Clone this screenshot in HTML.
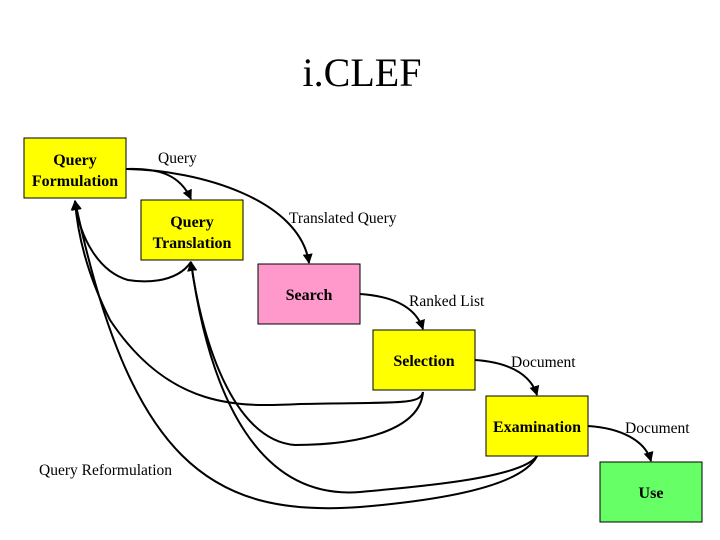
<!DOCTYPE html>
<html><head><style>
body{margin:0;width:720px;height:540px;background:#fff;overflow:hidden}
svg{display:block}
</style></head><body>
<svg width="720" height="540" xmlns="http://www.w3.org/2000/svg" font-family="Liberation Serif, serif">
<defs><marker id="a" viewBox="0 0 10 10" refX="9" refY="5" markerWidth="5" markerHeight="5" orient="auto"><path d="M0,0L10,5L0,10z" fill="#000"/></marker></defs>
<text x="362" y="86" font-size="40" text-anchor="middle">i.CLEF</text>
<g stroke="#000" stroke-width="1">
<rect x="24" y="138" width="102" height="60" fill="#ffff00"/>
<rect x="141" y="200" width="102" height="60" fill="#ffff00"/>
<rect x="258" y="264" width="102" height="60" fill="#ff99cc"/>
<rect x="373" y="330" width="102" height="60" fill="#ffff00"/>
<rect x="486" y="396" width="102" height="60" fill="#ffff00"/>
<rect x="600" y="462" width="102" height="60" fill="#66ff66"/>
</g>
<g fill="none" stroke="#000" stroke-width="2" marker-end="url(#a)">
<path d="M126,169 C160,168 180,175 191,199"/>
<path d="M126,169 C200,170 300,200 309,263"/>
<path d="M360,294 C390,296 415,305 423,329"/>
<path d="M475,360 C505,362 530,372 537,395"/>
<path d="M588,426 C620,428 645,440 651,461"/>
<path d="M191,262 C175,285 140,282 128,280 C100,272 80,240 75,201"/>
<path d="M423,392 C420,405 400,402 300,404 C240,407 170,410 110,320 C90,280 78,240 75,201"/>
<path d="M423,392 C420,430 360,445 295,445 C230,440 200,330 191,262"/>
<path d="M537,456 C520,480 400,488 360,492 C260,500 210,400 191,262"/>
<path d="M537,456 C520,490 420,502 360,507 C210,518 130,460 75,201"/>
</g>
<g font-size="16" text-anchor="middle" font-weight="bold">
<text x="75" y="165">Query</text><text x="75" y="186">Formulation</text>
<text x="192" y="227">Query</text><text x="192" y="248">Translation</text>
<text x="309" y="300">Search</text>
<text x="424" y="366">Selection</text>
<text x="537" y="432">Examination</text>
<text x="651" y="498">Use</text>
</g>
<g font-size="15.5">
<text x="158" y="163">Query</text>
<text x="289" y="223">Translated Query</text>
<text x="409" y="306">Ranked List</text>
<text x="511" y="367">Document</text>
<text x="625" y="433">Document</text>
<text x="39" y="475">Query Reformulation</text>
</g>
</svg>
</body></html>
